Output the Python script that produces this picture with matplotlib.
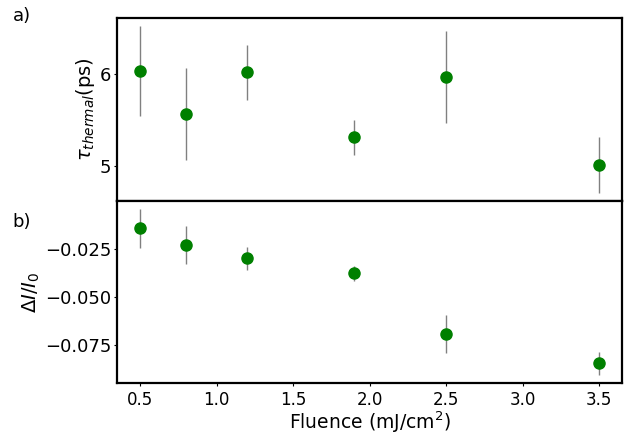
import matplotlib
matplotlib.use("Agg")
import matplotlib.pyplot as plt

# Datos
fluencia = [0.5, 0.8, 1.2, 1.9, 2.5, 3.5]
tau_thermal = [6.03, 5.57, 6.02, 5.31, 5.97, 5.01]
tau_err = [0.49, 0.50, 0.30, 0.19, 0.50, 0.30]
delta_i = [-0.0145, -0.0230, -0.0300, -0.0378, -0.0694, -0.0845]
delta_err = [0.010, 0.010, 0.006, 0.004, 0.010, 0.006]

fig = plt.figure(figsize=(6.26, 4.34), dpi=100)
ax1 = fig.add_axes([0.187, 0.537, 0.807, 0.4217])
ax2 = fig.add_axes([0.187, 0.1175, 0.807, 0.4195], sharex=ax1)

ax1.errorbar(fluencia, tau_thermal, yerr=tau_err, fmt='o', color='green',
             ecolor='gray', elinewidth=1, markersize=8)
ax2.errorbar(fluencia, delta_i, yerr=delta_err, fmt='o', color='green',
             ecolor='gray', elinewidth=1, markersize=8)

ax1.set_ylabel(r"$\tau_{thermal}$(ps)", fontsize=14, labelpad=2)
ax2.set_ylabel(r"$\Delta I/I_0$", fontsize=14, labelpad=2)
ax2.set_xlabel(r"Fluence (mJ/cm$^2$)", fontsize=13.5, labelpad=0)

ax1.set_yticks([5, 6])
ax2.set_yticks([-0.025, -0.050, -0.075])
ax2.set_xticks([0.5, 1.0, 1.5, 2.0, 2.5, 3.0, 3.5])
plt.setp(ax1.get_xticklabels(), visible=False)

for ax in (ax1, ax2):
    ax.tick_params(axis='y', length=2, labelsize=13, pad=2)
    ax.tick_params(axis='x', length=2, labelsize=12, pad=4)
    for s in ax.spines.values():
        s.set_linewidth(1.6)

fig.text(0.02, 0.952, "a)", fontsize=13)
fig.text(0.02, 0.478, "b)", fontsize=13)

plt.savefig("out.png", dpi=100)
